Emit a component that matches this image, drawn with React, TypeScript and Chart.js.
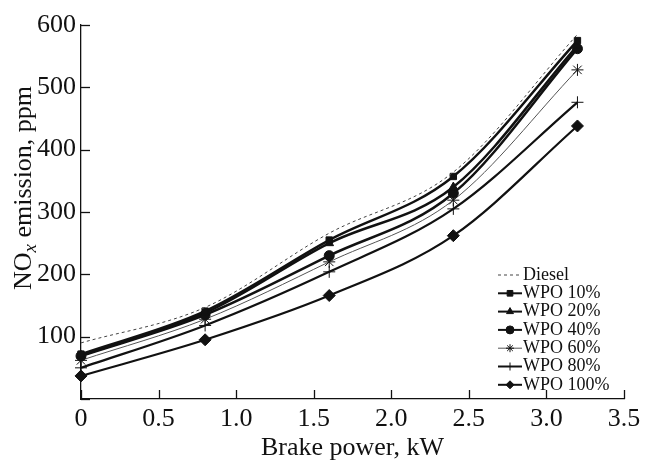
import React, { useEffect, useRef } from "react";
import { Chart, registerables } from "chart.js";
import { drawPoint } from "chart.js/helpers";

Chart.register(...registerables);

const xValues = [0, 0.8, 1.6, 2.4, 3.2];
const diesel = [90, 147, 266, 364, 585];
const wpo10 = [72, 141, 255, 357, 575];
const wpo20 = [70, 138, 250, 340, 567];
const wpo40 = [69, 135, 230, 330, 562];
const wpo60 = [62, 128, 220, 319, 528];
const wpo80 = [50, 118, 204, 305, 476];
const wpo100 = [37, 95, 166, 262, 438];

const seriesNames = ["Diesel", "WPO 10%", "WPO 20%", "WPO 40%", "WPO 60%", "WPO 80%", "WPO 100%"];
const seriesValues = [diesel, wpo10, wpo20, wpo40, wpo60, wpo80, wpo100];
const pointStyles = [false, "rect", "triangle", "circle", "star", "cross", "rectRot"];
const lineWidths = [1, 2.5, 2.5, 2.5, 1, 2.2, 2.2];
const lineColors = ["#444", "#111", "#111", "#111", "#555", "#111", "#111"];
const pointRadii = [0, 4.5, 5, 5, 6, 6, 6];

const xTicks = [0, 0.5, 1.0, 1.5, 2.0, 2.5, 3.0, 3.5];
const yTicks = [0, 100, 200, 300, 400, 500, 600];

const SERIF = "'Liberation Serif', 'Times New Roman', serif";

const decorPlugin = {
  id: "decor",
  afterDraw(chart: any) {
    const ctx = chart.ctx;
    const xs = chart.scales.x;
    const ys = chart.scales.y;
    const area = chart.chartArea;
    ctx.save();
    ctx.strokeStyle = "#111";
    ctx.lineWidth = 1.3;
    // inward tick marks
    xTicks.forEach((v) => {
      const px = Math.round(xs.getPixelForValue(v)) + 0.5;
      ctx.beginPath();
      ctx.moveTo(px, area.bottom);
      ctx.lineTo(px, area.bottom - 9);
      ctx.stroke();
    });
    yTicks.forEach((v) => {
      const py = Math.round(ys.getPixelForValue(v)) + 0.5;
      ctx.beginPath();
      ctx.moveTo(area.left, py);
      ctx.lineTo(area.left + 9, py);
      ctx.stroke();
    });

    // x title
    ctx.fillStyle = "#111";
    ctx.font = `26px ${SERIF}`;
    ctx.textAlign = "center";
    ctx.textBaseline = "middle";
    ctx.fillText("Brake power, kW", (area.left + area.right) / 2, 448);

    // y title with subscript x
    ctx.translate(24, 188);
    ctx.rotate(-Math.PI / 2);
    const big = `26px ${SERIF}`;
    const sub = `italic 19px ${SERIF}`;
    ctx.font = big;
    const w1 = ctx.measureText("NO").width;
    const w3 = ctx.measureText(" emission, ppm").width;
    ctx.font = sub;
    const w2 = ctx.measureText("x").width;
    let sx = -(w1 + w2 + w3) / 2;
    ctx.textAlign = "left";
    ctx.textBaseline = "middle";
    ctx.font = big;
    ctx.fillText("NO", sx, 0);
    sx += w1;
    ctx.font = sub;
    ctx.fillText("x", sx, 7);
    sx += w2;
    ctx.font = big;
    ctx.fillText(" emission, ppm", sx, 0);
    ctx.restore();

    // legend
    ctx.save();
    const lx0 = 498;
    const lx1 = 522;
    const ly0 = 275;
    const step = 18.3;
    ctx.font = `18px ${SERIF}`;
    ctx.textAlign = "left";
    ctx.textBaseline = "middle";
    seriesNames.forEach((name, i) => {
      const y = ly0 + i * step;
      ctx.strokeStyle = lineColors[i];
      ctx.lineWidth = i === 0 ? 1 : Math.min(lineWidths[i], 2);
      ctx.setLineDash(i === 0 ? [3, 3] : []);
      ctx.beginPath();
      ctx.moveTo(lx0, y);
      ctx.lineTo(lx1, y);
      ctx.stroke();
      ctx.setLineDash([]);
      if (pointStyles[i]) {
        ctx.fillStyle = "#111";
        ctx.strokeStyle = "#111";
        ctx.lineWidth = 1;
        drawPoint(ctx, { pointStyle: pointStyles[i], radius: 4, rotation: 0, borderWidth: 1 }, (lx0 + lx1) / 2, y);
      }
      ctx.fillStyle = "#111";
      ctx.fillText(name, lx1 + 1, y);
    });
    ctx.restore();
  },
};

export default function App() {
  const ref = useRef<HTMLCanvasElement>(null);
  useEffect(() => {
    if (!ref.current) return;
    const datasets = seriesNames.map((name, i) => ({
      label: name,
      data: xValues.map((x, j) => ({ x, y: seriesValues[i][j] })),
      borderColor: lineColors[i],
      backgroundColor: "#111",
      borderWidth: lineWidths[i],
      borderDash: i === 0 ? [3, 3] : [],
      pointStyle: pointStyles[i] || "circle",
      pointRadius: pointRadii[i],
      pointBorderColor: "#111",
      pointBackgroundColor: "#111",
      pointBorderWidth: 1,
      cubicInterpolationMode: "monotone" as const,
      tension: 0.4,
      fill: false,
      clip: false as any,
    }));
    const chart = new Chart(ref.current, {
      type: "line",
      data: { datasets },
      options: {
        responsive: false,
        animation: false,
        events: [],
        layout: { padding: { top: 25, right: 22, left: 0, bottom: 0 } },
        plugins: { legend: { display: false }, tooltip: { enabled: false } },
        scales: {
          x: {
            type: "linear",
            min: 0,
            max: 3.5,
            grid: { display: false, drawTicks: false },
            border: { display: true, color: "#111", width: 1.3 },
            afterBuildTicks: (s: any) => {
              s.ticks = xTicks.map((v) => ({ value: v }));
            },
            afterFit: (s: any) => {
              s.height = 63;
            },
            ticks: {
              color: "#111",
              font: { family: SERIF, size: 26 },
              padding: 5,
              maxRotation: 0,
              callback: (v: any) => (Number(v) === 0 ? "0" : Number(v).toFixed(1)),
            },
          },
          y: {
            type: "linear",
            min: 0,
            max: 600,
            grid: { display: false, drawTicks: false },
            border: { display: true, color: "#111", width: 1.3 },
            afterBuildTicks: (s: any) => {
              s.ticks = yTicks.map((v) => ({ value: v }));
            },
            afterFit: (s: any) => {
              s.width = 81;
            },
            ticks: {
              color: "#111",
              font: { family: SERIF, size: 26 },
              padding: 5,
              callback: (v: any) => (Number(v) === 0 ? "" : String(v)),
            },
          },
        },
      },
      plugins: [decorPlugin],
    });
    return () => chart.destroy();
  }, []);
  return (
    <div style={{ position: "fixed", left: 0, top: 0, width: 646, height: 462, background: "#fff" }}>
      <canvas ref={ref} width={646} height={462} style={{ width: 646, height: 462, display: "block" }} />
    </div>
  );
}
